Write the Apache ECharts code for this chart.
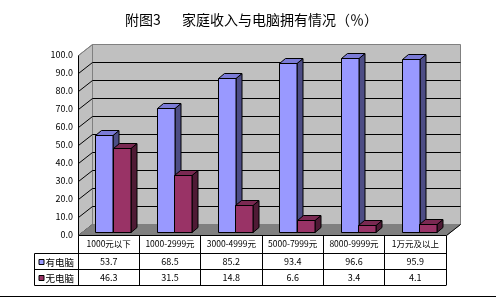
<!DOCTYPE html>
<html>
<head>
<meta charset="utf-8">
<script src="https://cdn.jsdelivr.net/npm/echarts/dist/echarts.min.js"></script>
<style>html,body{margin:0;padding:0;background:#fff}#c{width:496px;height:299px}</style>
</head>
<body>
<div id="c"></div>
<script>
// ---- data ----
const titleLead = '附图3';
const titleMain = '家庭收入与电脑拥有情况（％）';
const categories = ['1000元以下', '1000-2999元', '3000-4999元', '5000-7999元', '8000-9999元', '1万元及以上'];
const seriesNames = ['有电脑', '无电脑'];
const withPC = [53.7, 68.5, 85.2, 93.4, 96.6, 95.9];
const withoutPC = [46.3, 31.5, 14.8, 6.6, 3.4, 4.1];
const yMin = 0, yMax = 100, yStep = 10;

// ---- style ----
const FONT = '"Noto Sans CJK SC", "DejaVu Sans", sans-serif';
const DEPTH = [14, -11];
const BAR_SHIFT = [4, -3.5];
const BAR_DEPTH = [6, -5];
const BAR_W = 17.2;
const COLORS = [
  {front: '#9999FF', top: '#7B7BD6', side: '#4D4D85'},
  {front: '#993366', top: '#7A2952', side: '#4F1A35'}
];
const seriesData = [withPC, withoutPC];
const crisp = v => Math.round(v) + 0.5;

function line(x1, y1, x2, y2, color) {
  return {type: 'line', shape: {x1, y1, x2, y2}, style: {stroke: color || '#000', lineWidth: 1}};
}

function wallsRender(params, api) {
  if (params.dataIndex !== 0) return;
  const cs = params.coordSys;
  const x0 = crisp(cs.x), x1 = crisp(cs.x + cs.width);
  const yb = crisp(cs.y + cs.height), yt = crisp(cs.y);
  const dx = DEPTH[0], dy = DEPTH[1];
  const ch = [];
  ch.push({type: 'polygon', shape: {points: [[x0 + dx, yt + dy], [x1 + dx, yt + dy], [x1 + dx, yb + dy], [x0 + dx, yb + dy]]},
    style: {fill: '#C0C0C0', stroke: '#808080', lineWidth: 1}});
  ch.push({type: 'polygon', shape: {points: [[x0, yt], [x0 + dx, yt + dy], [x0 + dx, yb + dy], [x0, yb]]},
    style: {fill: '#C0C0C0', stroke: '#808080', lineWidth: 1}});
  const n = Math.round((yMax - yMin) / yStep);
  for (let k = 1; k < n; k++) {
    const y = crisp(api.coord([0, yMin + k * yStep])[1]);
    ch.push(line(x0 + dx, y + dy, x1 + dx, y + dy));
  }
  for (let k = 0; k <= n; k++) {
    const y = crisp(api.coord([0, yMin + k * yStep])[1]);
    ch.push(line(x0, y, x0 + dx, y + dy, k === n ? '#808080' : '#000'));
  }
  ch.push({type: 'polygon', shape: {points: [[x0, yb], [x1, yb], [x1 + dx, yb + dy], [x0 + dx, yb + dy]]},
    style: {fill: '#808080', stroke: '#808080', lineWidth: 1}});
  ch.push(line(x1, yb, x1 + dx, yb + dy, '#000'));
  ch.push(line(x0, yt, x0, yb));
  ch.push(line(x0, yb, x1, yb));
  return {type: 'group', children: ch};
}

function barRender(si) {
  return function (params, api) {
    const i = api.value(0), v = api.value(1);
    const base = api.coord([i, 0]);
    const topP = api.coord([i, v]);
    const cx = base[0] + BAR_SHIFT[0];
    const xl = Math.round(si === 0 ? cx - BAR_W : cx) + 0.5;
    const xr = Math.round(xl + BAR_W) + 0.5 - 0.5;
    const yb = Math.round(base[1] + BAR_SHIFT[1]) + 0.5;
    const yt = Math.round(topP[1] + BAR_SHIFT[1]) + 0.5;
    const ddx = BAR_DEPTH[0], ddy = BAR_DEPTH[1];
    const c = COLORS[si];
    const st = {stroke: '#000', lineWidth: 1, lineJoin: 'miter'};
    return {type: 'group', children: [
      {type: 'polygon', shape: {points: [[xr, yb], [xr + ddx, yb + ddy], [xr + ddx, yt + ddy], [xr, yt]]}, style: Object.assign({fill: c.side}, st)},
      {type: 'polygon', shape: {points: [[xl, yt], [xr, yt], [xr + ddx, yt + ddy], [xl + ddx, yt + ddy]]}, style: Object.assign({fill: c.top}, st)},
      {type: 'polygon', shape: {points: [[xl, yt], [xr, yt], [xr, yb], [xl, yb]]}, style: Object.assign({fill: c.front}, st)}
    ]};
  };
}

function tableRender(params, api) {
  const cs = params.coordSys;
  const i = api.value(0);
  const cx = api.coord([i, 0])[0];
  const ay = crisp(cs.y + cs.height);
  const rows = [ay + 18, ay + 34, ay + 50];
  const ch = [];
  const vals = [api.value(1), api.value(2)];
  for (let r = 0; r < 2; r++) {
    ch.push({type: 'text', style: {text: vals[r].toFixed(1), x: cx, y: (rows[r] + rows[r + 1]) / 2 + 0.5,
      align: 'center', verticalAlign: 'middle', fontSize: 9, fontFamily: FONT, fill: '#000'}});
  }
  if (params.dataIndex === 0) {
    const x0 = crisp(cs.x), x1 = crisp(cs.x + cs.width);
    const lx = x0 - 44;
    rows.forEach(y => ch.push(line(lx, y, x1, y)));
    ch.push(line(lx, rows[0], lx, rows[2]));
    for (let r = 0; r < 2; r++) {
      const yc = (rows[r] + rows[r + 1]) / 2;
      ch.push({type: 'rect', shape: {x: lx + 4.5, y: Math.round(yc) - 2.5, width: 5, height: 5},
        style: {fill: COLORS[r].front, stroke: '#000', lineWidth: 1}});
      ch.push({type: 'text', style: {text: seriesNames[r], x: lx + 11, y: yc + 0.5,
        align: 'left', verticalAlign: 'middle', fontSize: 9.5, fontFamily: FONT, fill: '#000'}});
    }
  }
  return {type: 'group', children: ch};
}

const chart = echarts.init(document.getElementById('c'), null, {renderer: 'canvas'});
chart.setOption({
  animation: false,
  backgroundColor: '#fff',
  title: [
    {text: titleLead, left: 120, top: 8, textStyle: {fontSize: 14, fontWeight: 'normal', fontFamily: FONT, color: '#000'}},
    {text: titleMain, left: 177, top: 8, textStyle: {fontSize: 14, fontWeight: 'normal', fontFamily: FONT, color: '#000'}}
  ],
  grid: {left: 78, right: 50, top: 55, bottom: 64},
  xAxis: {
    type: 'category', data: categories, boundaryGap: true,
    axisLine: {show: false},
    axisTick: {show: true, interval: 0, length: 50, lineStyle: {color: '#000', width: 1}},
    axisLabel: {interval: 0, margin: 9, verticalAlign: 'middle', fontSize: 8.5, fontFamily: FONT, color: '#000'}
  },
  yAxis: {
    type: 'value', min: yMin, max: yMax, interval: yStep,
    axisLine: {show: false}, axisTick: {show: false}, splitLine: {show: false},
    axisLabel: {margin: 5, fontSize: 9, fontFamily: FONT, color: '#000', formatter: v => v.toFixed(1)}
  },
  graphic: [
    {type: 'line', shape: {x1: 0, y1: 296.5, x2: 496, y2: 296.5}, style: {stroke: '#000', lineWidth: 1}}
  ],
  series: [
    {type: 'custom', name: 'walls', renderItem: wallsRender, data: [[0, 0]], encode: {x: 0, y: 1}, z: 1, silent: true},
    {type: 'custom', name: seriesNames[0], renderItem: barRender(0), data: withPC.map((v, i) => [i, v]), encode: {x: 0, y: 1}, z: 2},
    {type: 'custom', name: seriesNames[1], renderItem: barRender(1), data: withoutPC.map((v, i) => [i, v]), encode: {x: 0, y: 1}, z: 3},
    {type: 'custom', name: 'table', renderItem: tableRender, data: withPC.map((v, i) => [i, v, withoutPC[i]]), encode: {x: 0, y: 1}, z: 4, silent: true}
  ]
});
</script>
</body>
</html>
